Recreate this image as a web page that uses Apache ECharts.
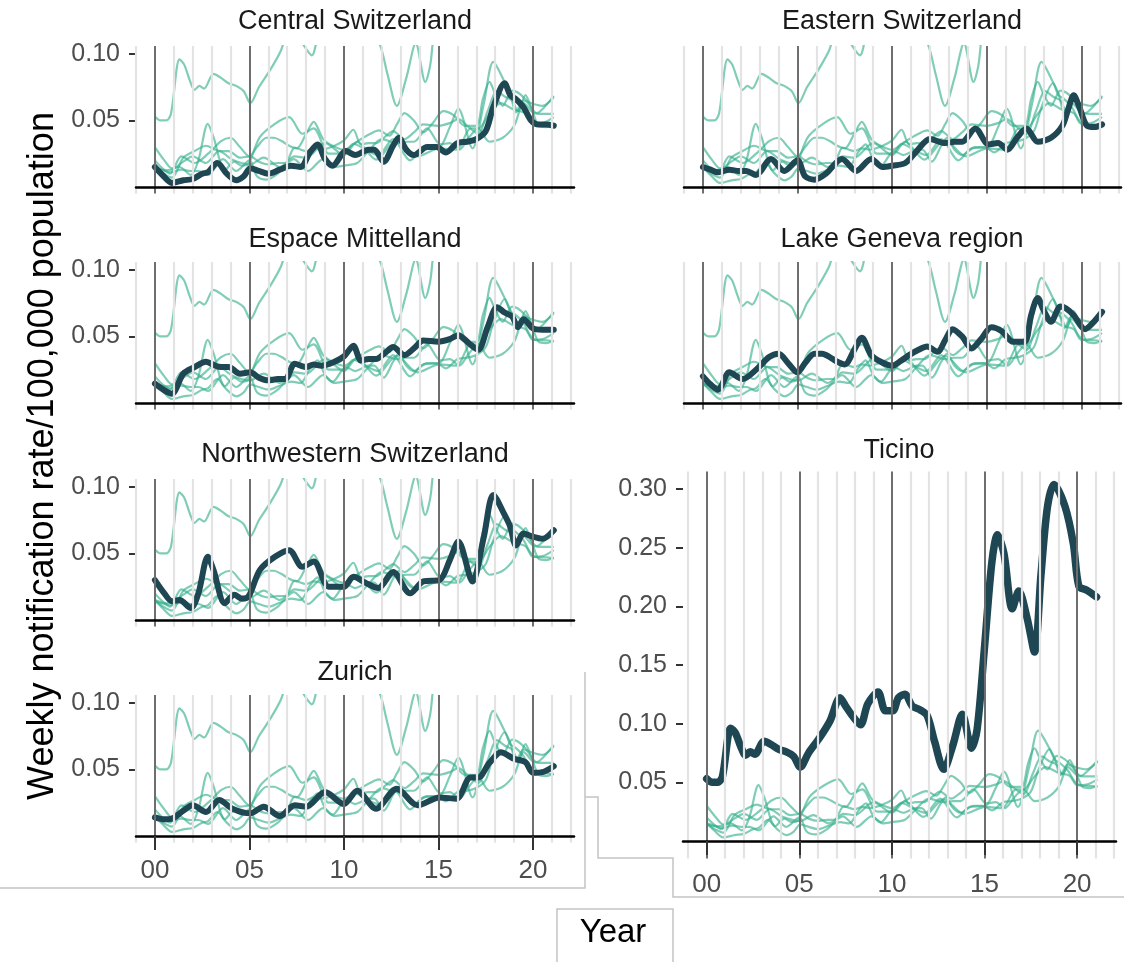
<!DOCTYPE html>
<html><head><meta charset="utf-8">
<script src="https://cdn.jsdelivr.net/npm/echarts@6/dist/echarts.min.js"></script>
<style>html,body{margin:0;padding:0;background:#fff}#c{width:1124px;height:962px}</style>
</head><body><div id="c"></div><script>
// ---------- data ----------
const regionNames = ['Central Switzerland','Eastern Switzerland','Espace Mittelland','Lake Geneva region','Northwestern Switzerland','Ticino','Zurich'];
// [years since 2000, weekly notification rate / 100,000]
const central = [[0,0.015],[0.4,0.009],[0.9,0.003],[1.5,0.005],[2.0,0.006],[2.5,0.010],[2.8,0.011],[3.3,0.018],[3.8,0.010],[4.3,0.005],[4.7,0.008],[5.05,0.014],[5.5,0.012],[6.0,0.010],[6.6,0.013],[7.2,0.016],[7.7,0.015],[8.2,0.026],[8.6,0.032],[9.0,0.021],[9.4,0.016],[10.1,0.027],[10.6,0.024],[11.3,0.028],[11.6,0.028],[12.1,0.019],[12.6,0.031],[12.9,0.037],[13.3,0.028],[13.7,0.024],[14.4,0.030],[14.9,0.030],[15.4,0.026],[16.0,0.033],[16.5,0.034],[17.0,0.036],[17.5,0.042],[17.9,0.060],[18.5,0.078],[18.8,0.069],[19.1,0.066],[19.5,0.060],[19.9,0.050],[20.3,0.047],[20.7,0.047],[21.1,0.046]];
const eastern = [[0,0.015],[0.4,0.013],[0.8,0.011],[1.4,0.013],[1.9,0.012],[2.3,0.012],[2.8,0.009],[3.6,0.021],[4.3,0.012],[5.0,0.020],[5.4,0.008],[5.9,0.0055],[6.5,0.010],[7.35,0.021],[8.1,0.012],[8.9,0.021],[9.5,0.015],[10.0,0.016],[10.7,0.018],[11.3,0.027],[12.0,0.036],[12.8,0.033],[13.3,0.034],[13.7,0.034],[14.4,0.044],[15.1,0.032],[15.6,0.033],[16.1,0.028],[16.6,0.037],[17.1,0.044],[17.7,0.034],[18.4,0.037],[19.0,0.046],[19.3,0.058],[19.6,0.069],[19.9,0.060],[20.3,0.046],[20.7,0.045],[21.1,0.047]];
const espace = [[0,0.0145],[0.5,0.0095],[0.9,0.007],[1.5,0.022],[2.1,0.027],[2.7,0.031],[3.2,0.028],[3.5,0.027],[3.9,0.027],[4.5,0.022],[5.05,0.023],[5.5,0.019],[6.0,0.017],[6.5,0.018],[6.9,0.018],[7.4,0.0295],[8.0,0.027],[8.4,0.029],[8.8,0.028],[9.5,0.031],[10.0,0.035],[10.5,0.043],[10.9,0.032],[11.3,0.033],[11.7,0.033],[12.2,0.038],[12.6,0.042],[13.2,0.036],[13.7,0.041],[14.2,0.047],[15.0,0.046],[15.6,0.048],[16.05,0.051],[16.6,0.045],[17.1,0.040],[17.6,0.057],[18.1,0.072],[18.5,0.068],[18.9,0.065],[19.2,0.057],[19.5,0.063],[20.0,0.056],[20.5,0.055],[21.1,0.055]];
const lakeGeneva = [[0,0.020],[0.4,0.014],[0.8,0.010],[1.4,0.023],[2.1,0.018],[2.85,0.0255],[3.5,0.0345],[4.0,0.037],[4.5,0.030],[5.0,0.023],[5.4,0.030],[5.9,0.037],[6.3,0.037],[6.7,0.0345],[7.1,0.031],[7.5,0.029],[8.0,0.040],[8.4,0.049],[8.9,0.036],[9.4,0.031],[10.0,0.028],[10.5,0.032],[10.9,0.036],[11.4,0.040],[11.85,0.0425],[12.4,0.0385],[12.8,0.047],[13.2,0.0555],[13.7,0.050],[14.2,0.041],[14.7,0.048],[15.25,0.057],[15.8,0.054],[16.4,0.046],[17.0,0.046],[17.35,0.066],[17.7,0.079],[18.0,0.070],[18.4,0.061],[18.9,0.0725],[19.2,0.071],[19.6,0.066],[20.2,0.0555],[20.6,0.060],[21.1,0.0685]];
const northwestern = [[0,0.030],[0.5,0.020],[0.9,0.014],[1.3,0.015],[1.9,0.009],[2.3,0.020],[2.8,0.0475],[3.1,0.0375],[3.7,0.0125],[4.2,0.019],[4.6,0.016],[4.95,0.0175],[5.55,0.0375],[6.35,0.0475],[7.1,0.0525],[7.8,0.040],[8.4,0.044],[9.2,0.025],[10.0,0.025],[10.5,0.0325],[11.2,0.0275],[11.8,0.024],[12.6,0.036],[13.5,0.020],[14.2,0.029],[15.05,0.030],[15.6,0.045],[16.05,0.059],[16.8,0.029],[17.4,0.0625],[17.9,0.094],[18.5,0.079],[18.8,0.070],[19.1,0.056],[19.5,0.065],[20.0,0.0625],[20.5,0.061],[21.1,0.0675]];
const ticino = [[0,0.053],[0.3,0.050],[0.6,0.050],[0.85,0.055],[1.3,0.096],[1.55,0.092],[1.85,0.080],[2.1,0.073],[2.35,0.076],[2.6,0.074],[3.1,0.085],[3.5,0.082],[3.9,0.078],[4.3,0.076],[4.7,0.072],[5.05,0.063],[5.5,0.075],[6.1,0.088],[6.65,0.102],[7.2,0.122],[7.5,0.115],[7.85,0.107],[8.3,0.099],[8.7,0.117],[9.25,0.127],[9.65,0.111],[10.05,0.111],[10.35,0.122],[10.7,0.125],[11.1,0.115],[11.5,0.112],[11.9,0.107],[12.3,0.085],[12.8,0.061],[13.3,0.082],[13.8,0.108],[14.3,0.079],[14.6,0.095],[15.0,0.165],[15.4,0.238],[15.7,0.261],[16.05,0.245],[16.5,0.198],[16.85,0.213],[17.3,0.190],[17.7,0.161],[18.05,0.227],[18.4,0.285],[18.75,0.304],[19.35,0.285],[19.8,0.253],[20.1,0.217],[20.5,0.214],[21.05,0.208]];
const zurich = [[0,0.014],[0.5,0.0125],[0.9,0.013],[1.5,0.019],[2.0,0.023],[2.7,0.018],[3.4,0.027],[4.1,0.0205],[5.05,0.017],[5.75,0.022],[6.6,0.015],[7.4,0.023],[8.0,0.022],[9.0,0.033],[10.0,0.024],[10.7,0.034],[11.7,0.0205],[12.8,0.0355],[13.9,0.023],[15.05,0.029],[15.95,0.028],[16.7,0.044],[17.1,0.044],[17.7,0.055],[18.3,0.063],[19.0,0.058],[19.6,0.0555],[20.0,0.0475],[20.5,0.048],[21.1,0.0525]];
const regionValues = [central, eastern, espace, lakeGeneva, northwestern, ticino, zurich];

const majorYears = [0,5,10,15,20];
const yearTickLabels = ['00','05','10','15','20'];
const minorYears = [-1,0,1,2,3,4,5,6,7,8,9,10,11,12,13,14,15,16,17,18,19,20,21,22];
const smallRateTicks = [0.05,0.10];
const ticinoRateTicks = [0.05,0.10,0.15,0.20,0.25,0.30];
const yAxisTitle = 'Weekly notification rate/100,000 population';
const xAxisTitle = 'Year';

// ---------- layout ----------
const FONT = "'Liberation Sans', Arial, sans-serif";
const SH = 147.6;
const panels = [
  {r:0, left:136, top:46,  width:438, height:SH, xMin:-1, xMax:22.17, yMin:-0.005, yMax:0.106, yTicks:smallRateTicks, yLab:true,  xLab:false, tx:355, ty:22, dw:6},
  {r:1, left:684, top:46,  width:437, height:SH, xMin:-1, xMax:22.1,  yMin:-0.005, yMax:0.106, yTicks:smallRateTicks, yLab:false, xLab:false, tx:902, ty:22, dw:6},
  {r:2, left:136, top:262, width:438, height:SH, xMin:-1, xMax:22.17, yMin:-0.005, yMax:0.106, yTicks:smallRateTicks, yLab:true,  xLab:false, tx:355, ty:240, dw:6},
  {r:3, left:684, top:262, width:437, height:SH, xMin:-1, xMax:22.1,  yMin:-0.005, yMax:0.106, yTicks:smallRateTicks, yLab:false, xLab:false, tx:902, ty:240, dw:6},
  {r:4, left:136, top:479, width:438, height:SH, xMin:-1, xMax:22.17, yMin:-0.005, yMax:0.106, yTicks:smallRateTicks, yLab:true,  xLab:false, tx:355, ty:455, dw:6},
  {r:6, left:136, top:695, width:438, height:SH, xMin:-1, xMax:22.17, yMin:-0.005, yMax:0.106, yTicks:smallRateTicks, yLab:true,  xLab:true,  tx:355, ty:673, dw:6, xm:15},
  {r:5, left:683, top:471.5, width:433, height:387, xMin:-1.28, xMax:22.1, yMin:-0.015, yMax:0.315, yTicks:ticinoRateTicks, yLab:true, xLab:true, tx:899, ty:451, dw:7.5, xm:13}
];

const grid=[], xAxis=[], yAxis=[], series=[], graphic=[];
panels.forEach((p,i)=>{
  grid.push({left:p.left, top:p.top, width:p.width, height:p.height});
  xAxis.push({type:'value', gridIndex:i, min:p.xMin, max:p.xMax, z:5,
    axisLine:{show:true, onZero:true, lineStyle:{color:'#000', width:2.5}},
    axisTick:{show:p.xLab, customValues:majorYears, length:14, lineStyle:{color:'#333', width:2}},
    axisLabel:{show:p.xLab, customValues:majorYears, formatter:v=>yearTickLabels[majorYears.indexOf(Math.round(v))], margin:p.xm||15, fontSize:26, color:'#4d4d4d', fontFamily:FONT},
    splitLine:{show:false}});
  yAxis.push({type:'value', gridIndex:i, min:p.yMin, max:p.yMax,
    axisLine:{show:false, onZero:false},
    axisTick:{show:p.yLab, customValues:p.yTicks, length:7, lineStyle:{color:'#333', width:2}},
    axisLabel:{show:p.yLab, customValues:p.yTicks, formatter:v=>v.toFixed(2), margin:16, fontSize:25, color:'#4d4d4d', fontFamily:FONT},
    splitLine:{show:false}});
  series.push({type:'line', xAxisIndex:i, yAxisIndex:i, data:[[p.xMin,p.yMin]], showSymbol:false, symbol:'none', silent:true, z:1,
    lineStyle:{opacity:0},
    markLine:{silent:true, symbol:['none','none'], label:{show:false}, animation:false,
      data: minorYears.filter(y=>y>=p.xMin && y<=p.xMax).map(y=>({xAxis:y,
        lineStyle:{color: majorYears.includes(y)?'#6e6e6e':'#e3e3e3', width: majorYears.includes(y)?2:2.2, type:'solid'}}))}});
  regionValues.forEach(vals=>series.push({type:'line', xAxisIndex:i, yAxisIndex:i, data:vals, smooth:0.3,
    showSymbol:false, symbol:'none', silent:true, z:2, lineStyle:{color:'rgba(50,175,138,0.62)', width:2.2}}));
  series.push({type:'line', name:regionNames[p.r], xAxisIndex:i, yAxisIndex:i, data:regionValues[p.r], smooth:0.3,
    showSymbol:false, symbol:'none', silent:true, z:3, lineStyle:{color:'#1f4653', width:p.dw, cap:'round', join:'round'}});
  graphic.push({type:'text', x:p.tx, y:p.ty, style:{text:regionNames[p.r], fill:'#1a1a1a', font:'27px '+FONT, textAlign:'center', textVerticalAlign:'middle'}});
});

const border = {stroke:'#c4c4c4', lineWidth:1.5, fill:null};
graphic.push({type:'polyline', shape:{points:[[585,672],[585,888],[0,888]]}, style:border});
graphic.push({type:'polyline', shape:{points:[[585,797],[598,797],[598,858],[673,858],[673,897],[1124,897]]}, style:border});
graphic.push({type:'rect', shape:{x:557, y:909, width:116, height:60}, style:border});
graphic.push({type:'text', x:613, y:933, style:{text:xAxisTitle, fill:'#000', font:'33px '+FONT, textAlign:'center', textVerticalAlign:'middle'}});
graphic.push({type:'text', x:43, y:456, rotation:Math.PI/2, style:{text:yAxisTitle, fill:'#000', font:'36px '+FONT, textAlign:'center', textVerticalAlign:'middle'}});

const chart = echarts.init(document.getElementById('c'), null, {renderer:'canvas'});
chart.setOption({animation:false, backgroundColor:'#fff', grid, xAxis, yAxis, series, graphic});
</script></body></html>
